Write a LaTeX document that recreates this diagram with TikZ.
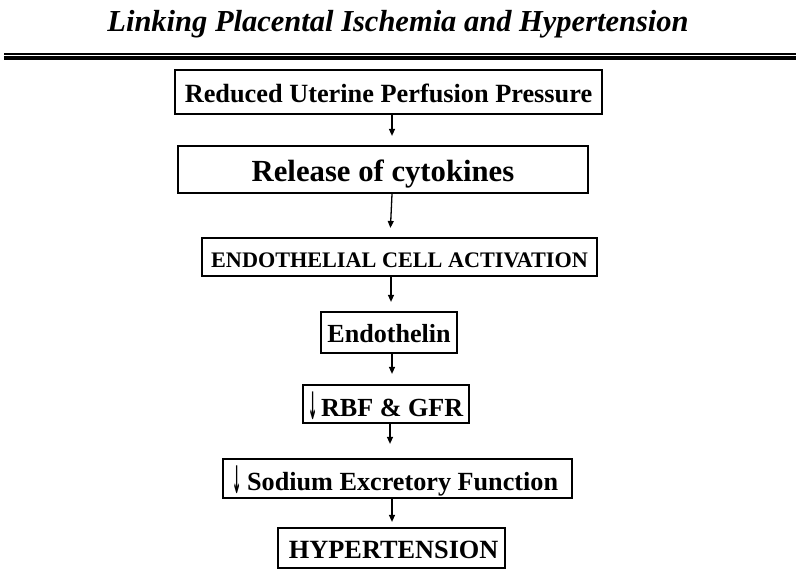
\documentclass[tikz,border=0pt]{standalone}
\usepackage{fontspec}
\usepackage{graphicx}
\setmainfont{Liberation Serif}
\newfontfamily\arrfont{DejaVu Sans}
\usetikzlibrary{arrows.meta}
\newcommand{\dnarrow}{{\arrfont\raisebox{-3pt}{\scalebox{0.42}[1.45]{↓}}}}
\begin{document}
\begin{tikzpicture}[x=1pt,y=-1pt,
  box/.style={draw,line width=2.2pt,rectangle,inner sep=0pt,text depth=0pt},
  arr/.style={line width=1.3pt,-{Triangle[length=7pt,width=6pt]}}]
\useasboundingbox (0,0) rectangle (800,580);
\node[font=\bfseries\itshape\fontsize{30.5}{36}\selectfont] (title) at (398,24) {Linking Placental Ischemia and Hypertension};
\coordinate (l1a) at (4,54);
\coordinate (l1b) at (796,54);
\coordinate (l2a) at (4,58);
\coordinate (l2b) at (796,58);
\draw[line width=1.2pt] (l1a) -- (l1b);
\draw[line width=3.6pt] (l2a) -- (l2b);
\node[box,text height=22pt,minimum width=427,minimum height=44,font=\bfseries\fontsize{26.3}{30}\selectfont] (b1) at (388.5,92) {Reduced Uterine Perfusion Pressure};
\node[box,text height=25pt,minimum width=410,minimum height=47,font=\bfseries\fontsize{30.7}{34}\selectfont] (b2) at (383,169.5) {Release of cytokines};
\node[box,text height=20pt,minimum width=395,minimum height=38,font=\bfseries\fontsize{22.2}{26}\selectfont] (b3) at (399.5,257) {ENDOTHELIAL CELL ACTIVATION};
\node[box,text height=19pt,minimum width=136,minimum height=41,font=\bfseries\fontsize{26.1}{30}\selectfont] (b4) at (389,332.5) {Endothelin};
\node[box,text height=24pt,minimum width=166,minimum height=38,font=\bfseries\fontsize{26.1}{30}\selectfont] (b5) at (386,404) {\dnarrow\hspace{3pt}RBF \& GFR};
\node[box,text height=23pt,minimum width=349,minimum height=39,font=\bfseries\fontsize{26.2}{30}\selectfont] (b6) at (397.5,478.5) {\hspace{-4pt}\dnarrow\hspace{5pt}Sodium Excretory Function};
\node[box,text height=20pt,minimum width=227,minimum height=40,font=\bfseries\fontsize{26.3}{30}\selectfont] (b7) at (391.5,548) {\,HYPERTENSION};
\draw[arr,shorten >=9pt] (b1.south -| 392,0) -- (b2.north -| 392,0);
\draw[arr,shorten >=9pt] (b2.south -| 392,0) -- (b3.north -| 390,0);
\draw[arr,shorten >=9pt] (b3.south -| 391,0) -- (b4.north -| 391,0);
\draw[arr,shorten >=10pt] (b4.south -| 392,0) -- (b5.north -| 392,0);
\draw[arr,shorten >=14pt] (b5.south -| 390,0) -- (b6.north -| 390,0);
\draw[arr,shorten >=5pt] (b6.south -| 392,0) -- (b7.north -| 392,0);
\end{tikzpicture}
\end{document}
